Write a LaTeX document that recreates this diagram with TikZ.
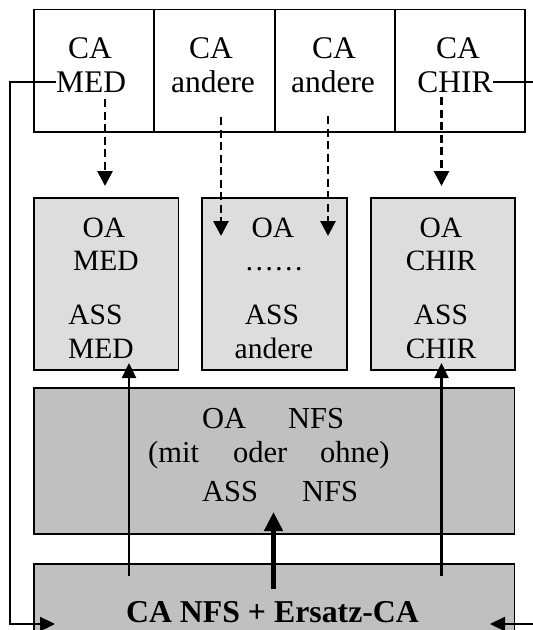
\documentclass[tikz,border=0pt]{standalone}
\usepackage{fontspec}
\setmainfont{Liberation Serif}
\usetikzlibrary{arrows.meta}
\definecolor{boxlight}{HTML}{DDDDDD}
\definecolor{boxdark}{HTML}{C0C0C0}
\begin{document}
\begin{tikzpicture}[x=1pt,y=-1pt,
  box/.style={draw=black, line width=1.9pt, inner sep=0pt, anchor=north west},
  topbox/.style={box, fill=white},
  unitbox/.style={box, fill=boxlight},
  nfsbox/.style={box, fill=boxdark},
  toptext/.style={anchor=base, inner sep=0pt, font=\fontsize{31.5}{34}\selectfont},
  unittext/.style={anchor=base, inner sep=0pt, font=\fontsize{29.5}{32}\selectfont},
  nfstext/.style={anchor=base west, inner sep=0pt, font=\fontsize{30.5}{34}\selectfont},
  headtext/.style={anchor=base, inner sep=0pt, font=\fontsize{31.8}{34}\selectfont\bfseries},
  link/.style={line width=2.4pt},
  linkarrow/.style={line width=2.4pt, -{Triangle[length=15pt,width=14pt]}},
  dasharrow/.style={line width=2.8pt, dash pattern=on 8pt off 4.5pt, -{Triangle[length=15pt,width=15pt]}},
  mainarrow/.style={line width=5.5pt, -{Triangle[length=19pt,width=18pt]}},
]
\useasboundingbox (0,0) rectangle (533,630);
\begin{scope}
\clip (0,0) rectangle (533,630);

% chief physicians row
\node[topbox, minimum width=120.3pt, minimum height=122.5pt] (ca1) at (32.7,8.5) {};
\node[topbox, minimum width=121pt,   minimum height=122.5pt] (ca2) at (153,8.5) {};
\node[topbox, minimum width=120pt,   minimum height=122.5pt] (ca3) at (274,8.5) {};
\node[topbox, minimum width=130pt,   minimum height=122.5pt] (ca4) at (394,8.5) {};

\node[toptext] (ca1a) at (90,58) {CA};
\node[toptext] (ca1b) at (91,92.5) {MED};
\node[toptext] (ca2a) at (211,58) {CA};
\node[toptext] (ca2b) at (213,92.5) {andere};
\node[toptext] (ca3a) at (334,58) {CA};
\node[toptext] (ca3b) at (333,92.5) {andere};
\node[toptext] (ca4a) at (458,58) {CA};
\node[toptext] (ca4b) at (455,92.5) {CHIR};

% departments
\node[unitbox, minimum width=144.5pt, minimum height=171.6pt] (m1) at (33,197) {};
\node[unitbox, minimum width=145pt,   minimum height=171.6pt] (m2) at (201,197) {};
\node[unitbox, minimum width=143.6pt, minimum height=171.6pt] (m3) at (370,197) {};

\node[unittext] (m1a) at (104,237) {OA};
\node[unittext] (m1b) at (106,270) {MED};
\node[unittext] (m1c) at (95.5,324) {ASS};
\node[unittext] (m1d) at (101,358) {MED};

\node[unittext] (m2a) at (273,237) {OA};
\node[unittext] (m2b) at (274,270) {……};
\node[unittext] (m2c) at (272,324) {ASS};
\node[unittext] (m2d) at (274,358) {andere};

\node[unittext] (m3a) at (441,237) {OA};
\node[unittext] (m3b) at (441,270) {CHIR};
\node[unittext] (m3c) at (441,324) {ASS};
\node[unittext] (m3d) at (441,358) {CHIR};

% emergency unit
\node[nfsbox, minimum width=480.5pt, minimum height=146pt] (nfs) at (33,387) {};
\node[nfstext] (n1a) at (202,428) {OA};
\node[nfstext] (n1b) at (288,428) {NFS};
\node[nfstext] (n2a) at (148,462) {(mit};
\node[nfstext] (n2b) at (233,462) {oder};
\node[nfstext] (n2c) at (320,462) {ohne)};
\node[nfstext] (n3a) at (202,501.7) {ASS};
\node[nfstext] (n3b) at (302,501.7) {NFS};

\node[nfsbox, minimum width=480.5pt, minimum height=90pt] (head) at (33,563) {};
\node[headtext] (headt) at (272.5,622) {CA NFS + Ersatz-CA};

% connector end points
\coordinate (d1s) at (105,99);   \coordinate (d1e) at (105,186);
\coordinate (d2s) at (221,117);  \coordinate (d2e) at (221,236);
\coordinate (d3s) at (328,116);  \coordinate (d3e) at (328,236);
\coordinate (d4s) at (441.5,97); \coordinate (d4e) at (441.5,186);
\coordinate (u1s) at (129,576);  \coordinate (u1e) at (129,363);
\coordinate (u2s) at (441.5,576);\coordinate (u2e) at (441.5,363);
\coordinate (ms)  at (273.5,589);\coordinate (me)  at (273.5,512);
\coordinate (leftrail) at (10,0);
\coordinate (rightrail) at (540,0);
\coordinate (inL) at (55,624);
\coordinate (inR) at (490,624);

% delegation from chief physicians
\draw[dasharrow] (d1s) -- (d1e);
\draw[dasharrow] (d2s) -- (d2e);
\draw[dasharrow] (d3s) -- (d3e);
\draw[dasharrow] (d4s) -- (d4e);

% emergency lead
\draw[linkarrow] (u1s) -- (u1e);
\draw[linkarrow] (u2s) -- (u2e);
\draw[mainarrow] (ms) -- (me);

% substitution loops
\draw[linkarrow] (ca1b.west) -- (ca1b.west -| leftrail) |- (inL);
\draw[linkarrow] (ca4b.east) -- (ca4b.east -| rightrail) |- (inR);
\end{scope}
\end{tikzpicture}
\end{document}
